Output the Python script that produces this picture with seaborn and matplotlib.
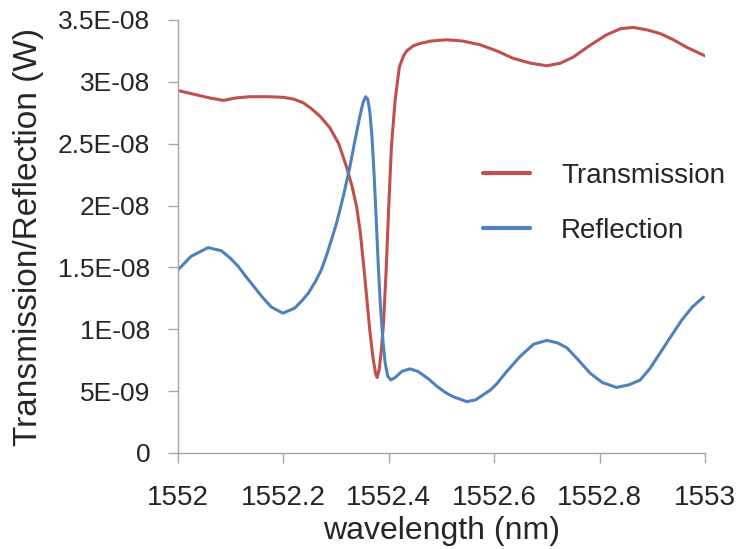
import pandas as pd
import numpy as np
import matplotlib
matplotlib.use("Agg")
import matplotlib.pyplot as plt
import seaborn as sns

# values (wavelength in nm, power in 1e-9 W)
trans_wl = [1552.000, 1552.030, 1552.060, 1552.086, 1552.110, 1552.137, 1552.170,
            1552.200, 1552.220, 1552.238, 1552.254, 1552.270, 1552.288, 1552.305,
            1552.320, 1552.330, 1552.339, 1552.346, 1552.352, 1552.358, 1552.364,
            1552.370, 1552.375, 1552.378, 1552.382, 1552.386, 1552.390, 1552.395,
            1552.400, 1552.405, 1552.412, 1552.420, 1552.428, 1552.434, 1552.446,
            1552.459, 1552.480, 1552.510, 1552.540, 1552.573, 1552.605, 1552.636,
            1552.670, 1552.700, 1552.725, 1552.750, 1552.780, 1552.813, 1552.840,
            1552.864, 1552.890, 1552.915, 1552.940, 1552.965, 1553.000]
trans_val = [29.3, 29.0, 28.7, 28.5, 28.7, 28.8, 28.8,
             28.75, 28.6, 28.3, 27.8, 27.2, 26.3, 25.0,
             23.1, 21.6, 19.9, 17.8, 15.3, 12.6, 9.9,
             7.7, 6.4, 6.1, 6.8, 8.4, 10.5, 14.8,
             20.0, 24.8, 28.5, 31.2, 32.1, 32.5, 32.9,
             33.1, 33.3, 33.4, 33.3, 33.0, 32.5, 31.9,
             31.5, 31.3, 31.5, 32.0, 32.9, 33.8, 34.3,
             34.4, 34.2, 33.9, 33.4, 32.8, 32.1]

refl_wl = [1552.000, 1552.025, 1552.057, 1552.082, 1552.098, 1552.114, 1552.130,
           1552.145, 1552.160, 1552.177, 1552.199, 1552.221, 1552.235, 1552.247,
           1552.260, 1552.272, 1552.282, 1552.291, 1552.301, 1552.314, 1552.326,
           1552.336, 1552.345, 1552.351, 1552.356, 1552.360, 1552.364, 1552.368,
           1552.372, 1552.376, 1552.380, 1552.384, 1552.389, 1552.393, 1552.398,
           1552.404, 1552.412, 1552.425, 1552.440, 1552.455, 1552.475, 1552.491,
           1552.507, 1552.522, 1552.548, 1552.565, 1552.579, 1552.593, 1552.605,
           1552.624, 1552.649, 1552.675, 1552.700, 1552.720, 1552.738, 1552.760,
           1552.782, 1552.805, 1552.832, 1552.855, 1552.877, 1552.895, 1552.915,
           1552.935, 1552.956, 1552.976, 1552.997]
refl_val = [14.8, 15.9, 16.6, 16.35, 15.8, 15.1, 14.2,
            13.4, 12.6, 11.8, 11.3, 11.7, 12.3, 12.9,
            13.8, 14.8, 16.0, 17.2, 18.6, 20.8, 23.1,
            25.3, 27.2, 28.3, 28.8, 28.6, 27.6, 25.6,
            22.6, 19.0, 15.2, 12.0, 9.0, 7.3, 6.2,
            5.9, 6.1, 6.6, 6.8, 6.6, 6.0, 5.4,
            4.9, 4.55, 4.15, 4.3, 4.7, 5.1, 5.6,
            6.6, 7.8, 8.8, 9.1, 8.9, 8.5, 7.5,
            6.45, 5.7, 5.3, 5.5, 5.9, 6.8, 8.1,
            9.4, 10.75, 11.8, 12.6]

x_ticks = [1552, 1552.2, 1552.4, 1552.6, 1552.8, 1553]
x_tick_labels = ["1552", "1552.2", "1552.4", "1552.6", "1552.8", "1553"]
y_ticks = [0, 5e-9, 1e-8, 1.5e-8, 2e-8, 2.5e-8, 3e-8, 3.5e-8]
y_tick_labels = ["0", "5E-09", "1E-08", "1.5E-08", "2E-08", "2.5E-08", "3E-08", "3.5E-08"]

df = pd.concat([
    pd.DataFrame({"wl": trans_wl, "power": np.array(trans_val) * 1e-9, "series": "Transmission"}),
    pd.DataFrame({"wl": refl_wl, "power": np.array(refl_val) * 1e-9, "series": "Reflection"}),
], ignore_index=True)

sns.set_style("ticks")
plt.rcParams['font.family'] = ['Liberation Sans', 'DejaVu Sans']

fig = plt.figure(figsize=(7.37, 5.49), dpi=100)
ax = fig.add_axes([0.2415, 0.1749, 0.7151, 0.7887])

sns.lineplot(data=df, x="wl", y="power", hue="series", estimator=None, sort=False,
             palette={"Transmission": "#C0504D", "Reflection": "#4F81BD"},
             linewidth=2.2, ax=ax)

ax.set_xlim(1552, 1553)
ax.set_ylim(0, 3.5e-8)
ax.set_xticks(x_ticks)
ax.set_xticklabels(x_tick_labels, fontsize=20)
ax.set_yticks(y_ticks)
ax.set_yticklabels(y_tick_labels, fontsize=19)
ax.tick_params(axis='both', color='#A6A6A6', length=7, width=1, direction='out')
ax.tick_params(axis='x', pad=16)
ax.tick_params(axis='y', pad=13)

for side in ['top', 'right']:
    ax.spines[side].set_visible(False)
for side in ['left', 'bottom']:
    ax.spines[side].set_color('#A6A6A6')
    ax.spines[side].set_linewidth(1)

ax.set_xlabel("wavelength (nm)", fontsize=23, labelpad=4)
ax.set_ylabel("Transmission/Reflection (W)", fontsize=24, labelpad=10)

leg = ax.legend(loc='center left', bbox_to_anchor=(0.579, 0.576), frameon=False,
                fontsize=20, handlelength=1.7, handletextpad=1.1, labelspacing=1.05,
                borderpad=0, borderaxespad=0)
for line in leg.get_lines():
    line.set_linewidth(3)

fig.savefig("out.png", dpi=100)
